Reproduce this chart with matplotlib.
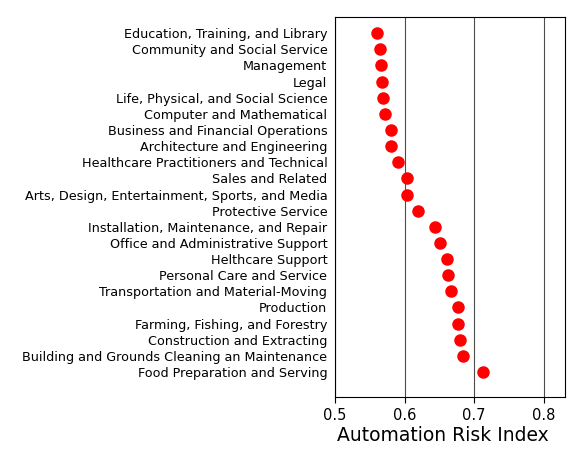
import numpy as np
import matplotlib
matplotlib.use('Agg')
import matplotlib.pyplot as plt

occupations = ['Education, Training, and Library',
               'Community and Social Service',
               'Management',
               'Legal',
               'Life, Physical, and Social Science',
               'Computer and Mathematical',
               'Business and Financial Operations',
               'Architecture and Engineering',
               'Healthcare Practitioners and Technical',
               'Sales and Related',
               'Arts, Design, Entertainment, Sports, and Media',
               'Protective Service',
               'Installation, Maintenance, and Repair',
               'Office and Administrative Support',
               'Helthcare Support',
               'Personal Care and Service',
               'Transportation and Material-Moving',
               'Production',
               'Farming, Fishing, and Forestry',
               'Construction and Extracting',
               'Building and Grounds Cleaning an Maintenance',
               'Food Preparation and Serving']
risk = [0.561, 0.565, 0.566, 0.568, 0.569, 0.572, 0.580, 0.580, 0.591,
        0.604, 0.604, 0.619, 0.644, 0.651, 0.661, 0.663, 0.667, 0.676,
        0.676, 0.680, 0.684, 0.712]
xticks = [0.5, 0.6, 0.7, 0.8]

fig = plt.figure(figsize=(5.85, 4.66), dpi=100)
ax = fig.add_axes([0.5726, 0.148, 0.394, 0.8155])

ypos = np.arange(len(occupations))
ax.scatter(risk, ypos, s=64, color='red', zorder=3)
ax.set_yticks(ypos)
ax.set_yticklabels(occupations, fontsize=9.2)
ax.tick_params(axis='y', length=0, pad=5.5)
ax.set_ylim(len(occupations) + 0.55, -1)

ax.set_xlim(0.5, 0.831)
ax.set_xticks(xticks)
ax.set_xticklabels([f'{t:.1f}' for t in xticks], fontsize=10.5)
ax.tick_params(axis='x', length=4.5)
ax.xaxis.grid(True, color='k', lw=0.8, alpha=0.7)
ax.set_axisbelow(True)
ax.set_xlabel('Automation Risk Index', fontsize=13.5)
ax.xaxis.set_label_coords(0.467, -0.075)

fig.savefig('out.png', dpi=100)
